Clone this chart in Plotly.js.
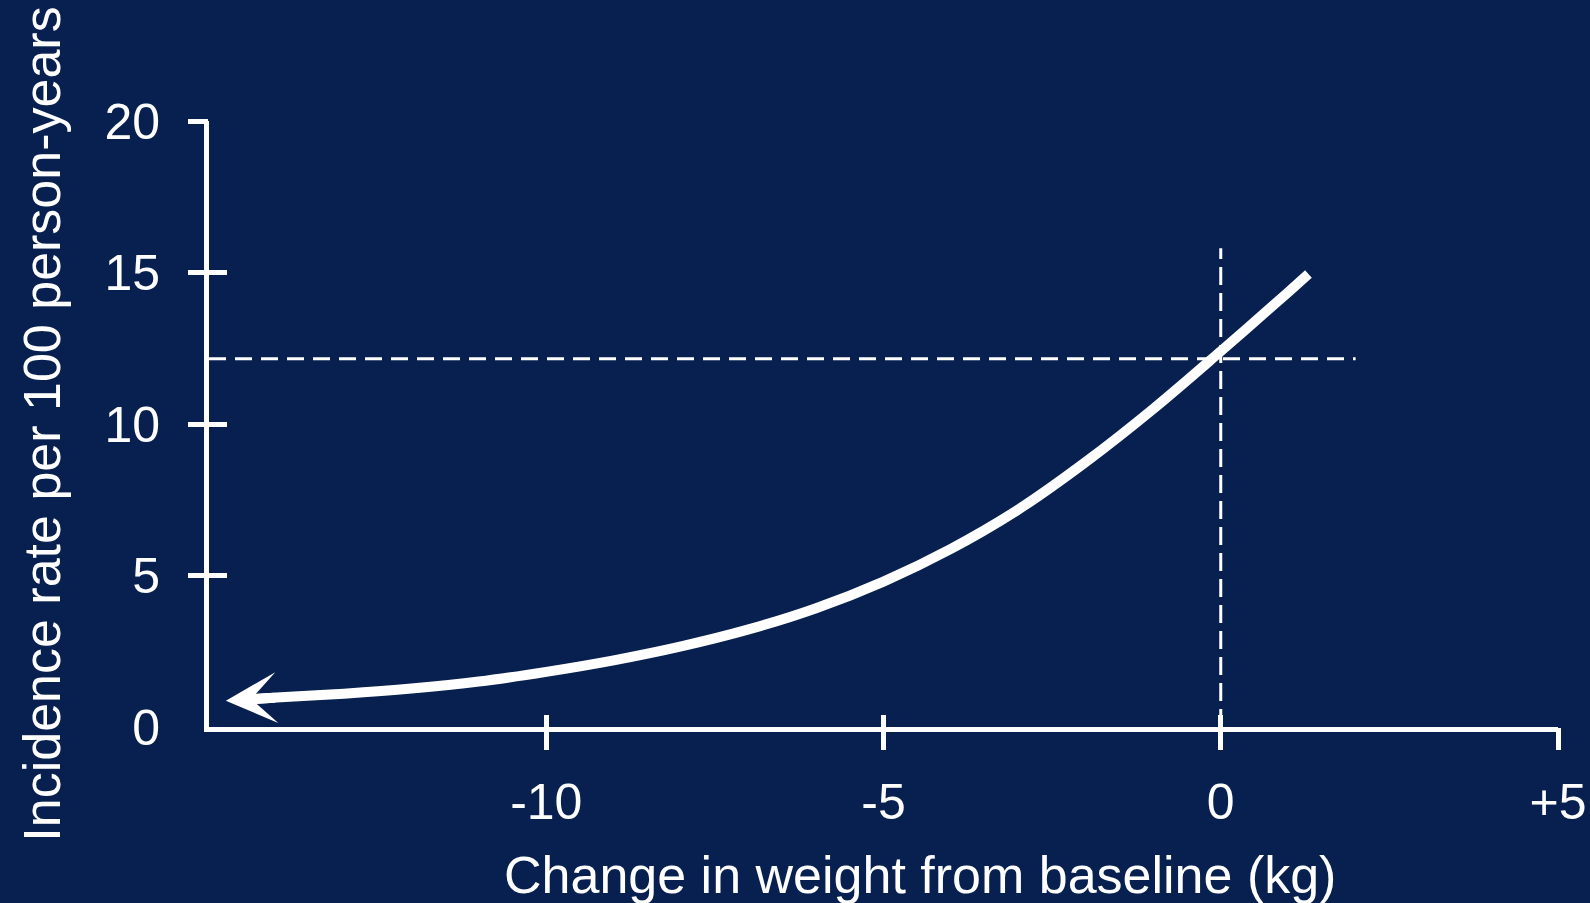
<!DOCTYPE html>
<html>
<head>
<meta charset="utf-8">
<script src="https://cdn.plot.ly/plotly-3.0.1.min.js"></script>
<style>
  html, body { margin: 0; padding: 0; background: #07204f; }
  #chart { width: 1590px; height: 903px; }
</style>
</head>
<body>
<div id="chart"></div>
<script>
// ---- data ----
const weightChange = [-14.55, -14, -13, -12, -11, -10, -9, -8, -7, -6, -5, -4, -3, -2, -1, 0, 1, 1.3];
const incidenceRate = [0.90, 0.97, 1.10, 1.27, 1.50, 1.82, 2.20, 2.66, 3.22, 3.92, 4.80, 5.88, 7.18, 8.75, 10.50, 12.40, 14.35, 14.95];

// arrow tip at the low-weight end of the curve
const arrowTipX = -14.75;
const arrowTipY = 0.87;

const baselineWeight = [0, 0];
const baselineRateSpan = [0, 15.8];
const baselineRateLevel = [12.15, 12.15];
const baselineRateXSpan = [-15, 2.0];

const xTickVals = [-10, -5, 0, 5];
const xTickText = ['-10', '-5', '0', '+5'];
const yTickVals = [0, 5, 10, 15, 20];
const yTickText = ['0', '5', '10', '15', '20'];
const yMarkVals = [5, 10, 15, 20];

const xRange = [-15, 5];
const yRange = [0, 20];

const xTitle = 'Change in weight from baseline (kg)';
const yTitle = 'Incidence rate per 100 person-years';

// ---- styling ----
const bg = '#07204f';
const fg = '#ffffff';
const fontFamily = '"Liberation Sans", Arial, sans-serif';

const traces = [
  { x: baselineRateXSpan, y: baselineRateLevel, mode: 'lines',
    line: { color: fg, width: 3, dash: '17px,9px' }, hoverinfo: 'skip', showlegend: false },
  { x: baselineWeight, y: baselineRateSpan, mode: 'lines',
    line: { color: fg, width: 3, dash: '18px,8px' }, hoverinfo: 'skip', showlegend: false },
  { x: weightChange, y: incidenceRate, mode: 'lines',
    line: { color: fg, width: 10, shape: 'spline', smoothing: 1 }, showlegend: false },
  // empty traces to host the tick-mark overlay axes
  { x: [], y: [], xaxis: 'x2', yaxis: 'y2', showlegend: false, hoverinfo: 'skip' },
  { x: [], y: [], xaxis: 'x3', yaxis: 'y3', showlegend: false, hoverinfo: 'skip' }
];

const baseAxis = { showgrid: false, zeroline: false, fixedrange: true };

const layout = {
  width: 1590, height: 903,
  paper_bgcolor: bg, plot_bgcolor: bg,
  margin: { l: 209, r: 32, t: 121, b: 176 },
  font: { family: fontFamily, color: fg },
  showlegend: false,
  xaxis: Object.assign({}, baseAxis, {
    range: xRange, tickmode: 'array', tickvals: xTickVals, ticktext: xTickText,
    ticks: '', showline: true, linecolor: fg, linewidth: 5,
    tickfont: { size: 50, color: fg, family: fontFamily },
    ticklabelstandoff: 27
  }),
  yaxis: Object.assign({}, baseAxis, {
    range: yRange, tickmode: 'array', tickvals: yTickVals, ticktext: yTickText,
    ticks: '', showline: true, linecolor: fg, linewidth: 5,
    tickfont: { size: 50, color: fg, family: fontFamily },
    ticklabelstandoff: 34,
    title: { text: yTitle, font: { size: 52, color: fg, family: fontFamily }, standoff: 29 }
  }),
  xaxis2: Object.assign({}, baseAxis, {
    range: xRange, overlaying: 'x', anchor: 'y2', side: 'bottom',
    tickmode: 'array', tickvals: xTickVals, ticks: 'outside', ticklen: 22, tickwidth: 5,
    tickcolor: fg, showticklabels: false, showline: false
  }),
  yaxis2: Object.assign({}, baseAxis, {
    range: yRange, overlaying: 'y', anchor: 'x2', side: 'left',
    tickmode: 'array', tickvals: yMarkVals, ticks: 'outside', ticklen: 20, tickwidth: 5,
    tickcolor: fg, showticklabels: false, showline: false
  }),
  xaxis3: Object.assign({}, baseAxis, {
    range: xRange, overlaying: 'x', anchor: 'y3', side: 'bottom',
    tickmode: 'array', tickvals: xTickVals, ticks: 'inside', ticklen: 12, tickwidth: 5,
    tickcolor: fg, showticklabels: false, showline: false
  }),
  yaxis3: Object.assign({}, baseAxis, {
    range: yRange, overlaying: 'y', anchor: 'x3', side: 'left',
    tickmode: 'array', tickvals: yMarkVals, ticks: 'inside', ticklen: 18, tickwidth: 5,
    tickcolor: fg, showticklabels: false, showline: false
  }),
  annotations: [
    { // arrow head at the low-weight end of the curve
      x: arrowTipX, y: arrowTipY, xref: 'x', yref: 'y',
      ax: weightChange[1], ay: incidenceRate[1], axref: 'x', ayref: 'y',
      text: '', showarrow: true, arrowhead: 3, arrowsize: 0.85, arrowwidth: 10,
      arrowcolor: fg, standoff: 0, startstandoff: 0
    },
    { // x-axis title
      text: xTitle, xref: 'paper', yref: 'paper', x: 0.5267, y: -0.244,
      xanchor: 'center', yanchor: 'middle', showarrow: false,
      font: { size: 52, color: fg, family: fontFamily }
    }
  ]
};

Plotly.newPlot('chart', traces, layout, { displayModeBar: false, staticPlot: true });
</script>
</body>
</html>
